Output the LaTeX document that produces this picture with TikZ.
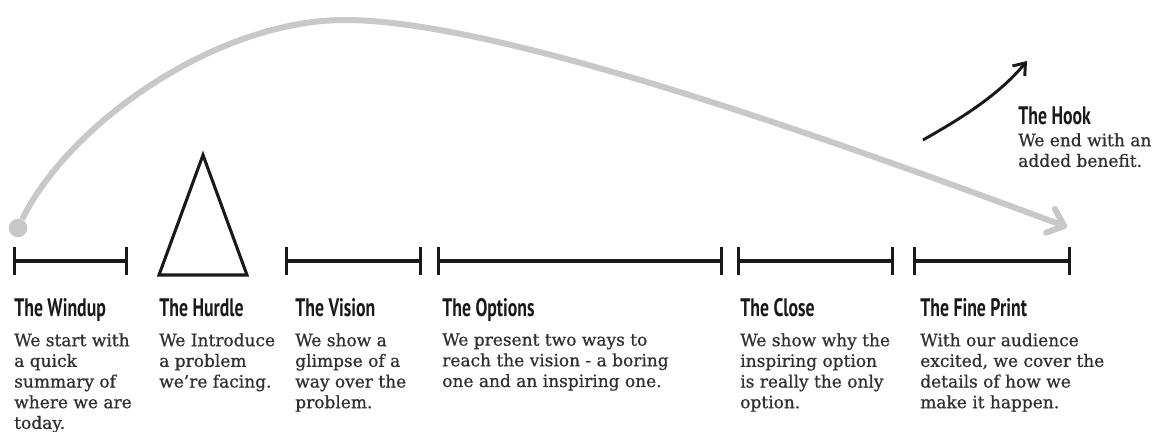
\documentclass[tikz,border=0pt]{standalone}
\usepackage{fontspec}
\usepackage{xcolor}
\newfontfamily\titlefont{PT Sans Bold}[FakeStretch=0.70]
\newfontfamily\bodyfont{DejaVu Serif}[FakeBold=0.8]
\definecolor{arcgray}{RGB}{200,200,200}
\definecolor{inkblack}{RGB}{25,25,25}
\definecolor{bodygray}{RGB}{48,48,48}
\usetikzlibrary{arrows.meta}

\begin{document}
\begin{tikzpicture}[x=0.75pt,y=-0.75pt,
  phase/.style={inkblack,line width=2.3pt,{Bar[width=21pt]}-{Bar[width=21pt]}},
  phasetitle/.style={anchor=base west,inner sep=0pt,text=inkblack,font=\titlefont\fontsize{19pt}{22pt}\selectfont},
  phasetext/.style={anchor=north west,inner sep=0pt,align=left,text=bodygray,font=\bodyfont\fontsize{12.75pt}{15.5pt}\selectfont}]
  \useasboundingbox (0,0) rectangle (1157,432);

  % the story arc
  \node[circle,fill=arcgray,inner sep=0pt,minimum size=14pt] (start) at (18,228) {};
  \coordinate (finish) at (1067,227);
  \coordinate (peak) at (345,20);
  \draw[arcgray,line width=4.5pt,-{Straight Barb[length=11pt,width=19pt,round]}]
    (start) .. controls (68,125) and (215,20) .. (peak)
    .. controls (495,20) and (817,134) .. (finish);

  % timeline
  \draw[phase] (13,261) -- (128,261);
  \draw[inkblack,line width=2.3pt] (159,275) -- (203,155) -- (247,275) -- cycle;
  \draw[phase] (285,261) -- (422,261);
  \draw[phase] (437,261) -- (723,261);
  \draw[phase] (737,261) -- (894,261);
  \draw[phase] (913,261) -- (1071,261);

  % phases
  \node[phasetitle] (windup) at (14,316) {The Windup};
  \node[phasetext] (windupt) at (14,333) {We start with\\a quick\\summary of\\where we are\\today.};
  \node[phasetitle] (hurdle) at (159,316) {The Hurdle};
  \node[phasetext] (hurdlet) at (159,333) {We Introduce\\a problem\\we’re facing.};
  \node[phasetitle] (vision) at (295,316) {The Vision};
  \node[phasetext] (visiont) at (295,333) {We show a\\glimpse of a\\way over the\\problem.};
  \node[phasetitle] (options) at (442,316) {The Options};
  \node[phasetext] (optionst) at (442,333) {We present two ways to\\reach the vision - a boring\\one and an inspiring one.};
  \node[phasetitle] (close) at (740,316) {The Close};
  \node[phasetext] (closet) at (740,333) {We show why the\\inspiring option\\is really the only\\option.};
  \node[phasetitle] (fineprint) at (920,316) {The Fine Print};
  \node[phasetext] (fineprintt) at (920,333) {With our audience\\excited, we cover the\\details of how we\\make it happen.};

  % the hook
  \coordinate (hookfrom) at (923,140);
  \coordinate (hookto) at (1027,61);
  \draw[inkblack,line width=2.2pt,-{Straight Barb[length=8pt,width=12pt]}]
    (hookfrom) .. controls (958,120) and (997,97) .. (hookto);
  \node[phasetitle] (hook) at (1018,124) {The Hook};
  \node[phasetext] (hookt) at (1018,133) {We end with an\\added benefit.};
\end{tikzpicture}
\end{document}
